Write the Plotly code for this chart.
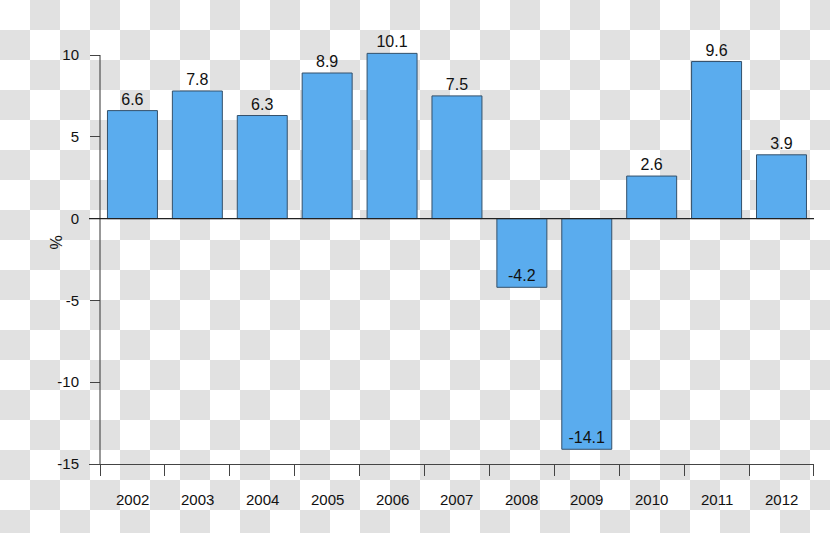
import plotly.graph_objects as go

years = ["2002", "2003", "2004", "2005", "2006", "2007", "2008", "2009", "2010", "2011", "2012"]
growth = [6.6, 7.8, 6.3, 8.9, 10.1, 7.5, -4.2, -14.1, 2.6, 9.6, 3.9]
y_ticks = [-15, -10, -5, 0, 5, 10]

W, H = 830, 533
L, R, T, B = 89, 16, 20, 69
pw, ph = W - L - R, H - T - B

# px per category and plot ranges (first boundary at x=100px)
cat_px = (W - R - 100) / len(years)
x_lo = -0.5 - (100 - L) / cat_px
x_hi = len(years) - 0.5 + 0.001
y_px = 409 / (max(y_ticks) - min(y_ticks))
y_hi = max(y_ticks) + (55 - T) / y_px


def px2paper(px, py):
    return (px - L) / pw, (H - B - py) / ph


# transparent-style checkerboard background
sq = 30
parts = []
for r in range(H // sq + 1):
    for c in range(W // sq + 1):
        if (r + c) % 2 == 1:
            x0, y0 = px2paper(c * sq, r * sq)
            x1, y1 = px2paper((c + 1) * sq, (r + 1) * sq)
            parts.append(f"M{x0:.5f},{y0:.5f}L{x1:.5f},{y0:.5f}L{x1:.5f},{y1:.5f}L{x0:.5f},{y1:.5f}Z")
checker = dict(type="path", xref="paper", yref="paper", path="".join(parts),
               fillcolor="#e1e1e1", line=dict(width=0), layer="below")

xs = list(range(len(years)))
fig = go.Figure(go.Bar(
    x=xs, y=growth, width=0.77,
    marker=dict(color="#5aacee", line=dict(color="#34506a", width=1)),
    text=[f"{v:.1f}" for v in growth],
    textposition=["outside" if v > 0 else "inside" for v in growth],
    insidetextanchor="end", textangle=0,
    textfont=dict(size=16, color="#111"),
    cliponaxis=False,
))

fig.update_layout(
    width=W, height=H, margin=dict(l=L, r=R, t=T, b=B),
    paper_bgcolor="white", plot_bgcolor="rgba(0,0,0,0)",
    font=dict(family="Liberation Sans, Arial", size=15, color="#111"),
    showlegend=False, uniformtext=dict(minsize=16, mode="show"),
    xaxis=dict(range=[x_lo, x_hi], tickvals=[i - 0.5 for i in range(len(years) + 1)],
               ticktext=[""] * (len(years) + 1), ticks="outside", ticklen=11,
               tickcolor="#444", showline=True, linecolor="#444", linewidth=1,
               showgrid=False, zeroline=False),
    yaxis=dict(range=[min(y_ticks), y_hi], tickvals=y_ticks,
               ticktext=[str(v) for v in y_ticks], ticks="outside", ticklen=10,
               tickcolor="#444", anchor="free", position=(100 - L) / pw,
               showline=False, showgrid=False, zeroline=False, ticklabelstandoff=8,
               tickfont=dict(size=15)),
    shapes=[
        checker,
        dict(type="line", xref="x", yref="y", x0=-0.5, x1=-0.5,
             y0=min(y_ticks), y1=max(y_ticks), line=dict(color="#333", width=1)),
        dict(type="line", xref="paper", yref="y", x0=0, x1=1, y0=0, y1=0,
             line=dict(color="#222", width=1.3), layer="above"),
    ],
)

for i, yr in enumerate(years):
    fig.add_annotation(x=i, y=0, xref="x", yref="paper", text=yr, showarrow=False,
                       yanchor="top", yshift=-25, font=dict(size=15))

tx, ty = px2paper(45, 243)
fig.add_annotation(x=tx, y=ty, xref="paper", yref="paper", text="%", showarrow=False,
                   textangle=-90, font=dict(size=16))

fig.write_html("out.html", config={"displayModeBar": False},
               post_script="document.body.style.margin='0';")
